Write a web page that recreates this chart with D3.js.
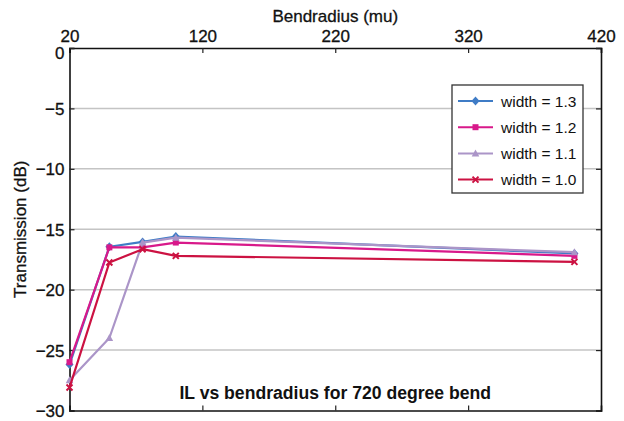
<!DOCTYPE html>
<html>
<head>
<meta charset="utf-8">
<script src="https://cdn.jsdelivr.net/npm/d3@7"></script>
<style>
  body { margin: 0; background: #fff; }
  text { font-family: "Liberation Sans", Arial, sans-serif; fill: #111; }
</style>
</head>
<body>
<div id="chart"></div>
<script>
// bend radius (mu)
const radius = [20, 50, 75, 100, 400];

// transmission (dB) for each waveguide width
const w13 = [-26.2, -16.45, -16.05, -15.6, -17.0];
const w12 = [-26.0, -16.5, -16.5, -16.1, -17.2];
const w11 = [-27.5, -24.0, -16.1, -15.7, -16.9];
const w10 = [-28.1, -17.75, -16.65, -17.2, -17.7];

const seriesNames = ["width = 1.3", "width = 1.2", "width = 1.1", "width = 1.0"];
const topTicks = [20, 120, 220, 320, 420];
const yTicks = [0, -5, -10, -15, -20, -25, -30];

const width = 624;
const height = 421;
const margin = { top: 48, right: 23, bottom: 10.5, left: 69.5 };

const svg = d3
  .select("#chart")
  .append("svg")
  .attr("width", width)
  .attr("height", height);

const x = d3
  .scaleLinear()
  .domain([20, 420])
  .range([margin.left, width - margin.right]);

const y = d3
  .scaleLinear()
  .domain([0, -30])
  .range([margin.top, height - margin.bottom]);

// horizontal grid
svg
  .append("g")
  .selectAll("line")
  .data(yTicks.filter((d) => d !== 0 && d !== -30))
  .enter()
  .append("line")
  .attr("x1", x(20))
  .attr("x2", x(420))
  .attr("y1", (d) => y(d))
  .attr("y2", (d) => y(d))
  .attr("stroke", "#c4c4c4")
  .attr("stroke-width", 1.5);

// axes, all ticks pointing inwards
const topAxis = svg
  .append("g")
  .attr("transform", `translate(0, ${margin.top})`)
  .call(d3.axisTop(x).tickValues(topTicks).tickSize(-5).tickPadding(6));

const bottomAxis = svg
  .append("g")
  .attr("transform", `translate(0, ${height - margin.bottom})`)
  .call(d3.axisBottom(x).tickValues([120, 220, 320]).tickSize(-5).tickFormat(""));

const leftAxis = svg
  .append("g")
  .attr("transform", `translate(${margin.left}, 0)`)
  .call(d3.axisLeft(y).tickValues(yTicks).tickSize(-5).tickPadding(5));

const rightAxis = svg
  .append("g")
  .attr("transform", `translate(${width - margin.right}, 0)`)
  .call(d3.axisRight(y).tickValues(yTicks).tickSize(-5).tickFormat(""));

[topAxis, bottomAxis, leftAxis, rightAxis].forEach((g) => {
  g.select(".domain").attr("stroke", "#111").attr("stroke-width", 1.6);
  g.selectAll(".tick line").attr("stroke", "#222").attr("stroke-width", 1.2);
  g.selectAll(".tick text")
    .style("font-size", "17px")
    .style("font-family", '"Liberation Sans", Arial, sans-serif')
    .attr("fill", "#111")
    .attr("stroke", "#111")
    .attr("stroke-width", 0.3);
});
leftAxis.selectAll(".tick text").attr("dy", (d) => (d === 0 ? "0.6em" : "0.36em"));

// axis titles
svg
  .append("text")
  .attr("x", (x(20) + x(420)) / 2)
  .attr("y", 22)
  .attr("text-anchor", "middle")
  .style("font-size", "17px")
  .attr("stroke", "#111")
  .attr("stroke-width", 0.3)
  .text("Bendradius (mu)");

svg
  .append("text")
  .attr("transform", `translate(26, ${(y(0) + y(-30)) / 2}) rotate(-90)`)
  .attr("text-anchor", "middle")
  .style("font-size", "17px")
  .attr("stroke", "#111")
  .attr("stroke-width", 0.3)
  .text("Transmission (dB)");

// chart title inside the plot
svg
  .append("text")
  .attr("x", (x(20) + x(420)) / 2)
  .attr("y", 399)
  .attr("text-anchor", "middle")
  .style("font-size", "17.6px")
  .style("font-weight", "bold")
  .text("IL vs bendradius for 720 degree bend");

const colors = ["#3f7cc6", "#d8198a", "#ab95c8", "#cc1242"];
const shapes = ["diamond", "square", "triangle", "cross"];
const allSeries = [w13, w12, w11, w10];

const drawMarker = (g, shape, cx, cy, color) => {
  if (shape === "diamond") {
    g.append("path")
      .attr("d", `M${cx},${cy - 4.5}L${cx + 4},${cy}L${cx},${cy + 4.5}L${cx - 4},${cy}Z`)
      .attr("fill", color);
  } else if (shape === "square") {
    g.append("rect")
      .attr("x", cx - 3)
      .attr("y", cy - 3)
      .attr("width", 6)
      .attr("height", 6)
      .attr("fill", color);
  } else if (shape === "triangle") {
    g.append("path")
      .attr("d", `M${cx},${cy - 4}L${cx + 3.8},${cy + 3}L${cx - 3.8},${cy + 3}Z`)
      .attr("fill", color);
  } else {
    g.append("path")
      .attr("d", `M${cx - 3},${cy - 3}L${cx + 3},${cy + 3}M${cx + 3},${cy - 3}L${cx - 3},${cy + 3}`)
      .attr("stroke", color)
      .attr("stroke-width", 2);
  }
};

const line = d3
  .line()
  .x((d, i) => x(radius[i]))
  .y((d) => y(d));

allSeries.forEach((values, si) => {
  const g = svg.append("g");
  g.append("path")
    .datum(values)
    .attr("d", line)
    .attr("fill", "none")
    .attr("stroke", colors[si])
    .attr("stroke-width", 2.2)
    .attr("stroke-linejoin", "round");
  values.forEach((v, i) => drawMarker(g, shapes[si], x(radius[i]), y(v), colors[si]));
});

// legend
const legend = svg.append("g").attr("transform", "translate(452, 85)");
legend
  .append("rect")
  .attr("width", 131)
  .attr("height", 108)
  .attr("fill", "#fff")
  .attr("stroke", "#333")
  .attr("stroke-width", 1.3);

seriesNames.forEach((name, i) => {
  const ly = 16 + i * 26.2;
  legend
    .append("line")
    .attr("x1", 6)
    .attr("x2", 41)
    .attr("y1", ly)
    .attr("y2", ly)
    .attr("stroke", colors[i])
    .attr("stroke-width", 2);
  drawMarker(legend, shapes[i], 23.5, ly, colors[i]);
  legend
    .append("text")
    .attr("x", 49)
    .attr("y", ly)
    .attr("dy", "0.36em")
    .style("font-size", "15.5px")
    .text(name);
});
</script>
</body>
</html>
